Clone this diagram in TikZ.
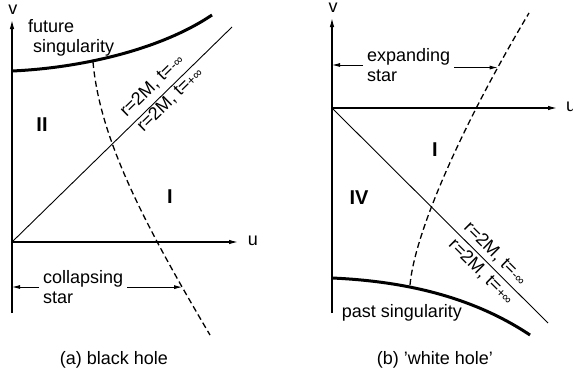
\documentclass[tikz,border=0pt]{standalone}
\usepackage{fontspec}
\setmainfont{Liberation Sans}
\usetikzlibrary{arrows.meta,positioning}

\begin{document}
\begin{tikzpicture}[
  x=1pt,
  y=-1pt,
  >={Latex[length=9pt,width=4.5pt]},
  every node/.style={font=\fontsize{18}{20}\selectfont},
  axis/.style={->,draw=black,line width=1.2pt},
  horizon/.style={draw=black,line width=0.9pt},
  singular/.style={draw=black,line width=3pt},
  starline/.style={draw=black,line width=1.3pt,dash pattern=on 6pt off 3.5pt},
  pointer/.style={->,draw=black,line width=0.9pt,>={Latex[length=8pt,width=4pt]}},
  hlabel/.style={sloped,inner sep=1pt},
  region/.style={font=\fontsize{20}{22}\selectfont\bfseries}
]
\useasboundingbox (0,0) rectangle (573,372);

% (a) Black hole: axes.
\coordinate (Oa) at (12,242);
\coordinate (vtopa) at (12,20);
\coordinate (vbota) at (12,313);
\coordinate (uenda) at (238,242);
\draw[axis] (vbota) -- (vtopa);
\draw[axis] (Oa) -- (uenda);
\node (vlaba) at (13,10) {v};
\node (ulaba) at (253,241) {u};

% Future singularity and horizon.
\coordinate (fsa) at (12,71);
\coordinate (fsb) at (212,15);
\draw[singular] (fsa) .. controls (80,68) and (160,50) .. (fsb);
\coordinate (ha) at (232,27);
\draw[horizon] (Oa) -- (ha)
  node[hlabel,pos=0.68,above=5pt] {r=2M, t={\fontsize{13}{13}\selectfont-∞}}
  node[hlabel,pos=0.69,below=0pt] {r=2M, t={\fontsize{13}{13}\selectfont+∞}};

% Surface of the collapsing star.
\coordinate (csa) at (93,62);
\draw[starline] (csa) .. controls (100,140) and (145,225) .. (210,335)
  coordinate[pos=0.85] (cs);

\node[align=left,anchor=west,inner sep=0pt] (fsing) at (28,38) {future\\\hspace*{5pt}singularity};
\node[region] (regII) at (42,125) {II};
\node[region] (regIa) at (170,197) {I};
\node[align=left,anchor=west,inner sep=4pt] (cstar) at (39,287) {collapsing\\star};
\draw[pointer] (cstar.west) -- (cstar.west -| Oa);
\draw[pointer] (cstar.east |- cs) -- (cs);
\node (capa) at (114,360) {(a) black hole};

% (b) White hole: axes.
\coordinate (Ob) at (332,108);
\coordinate (vtopb) at (332,18);
\coordinate (vbotb) at (332,313);
\coordinate (uendb) at (557,108);
\draw[axis] (vbotb) -- (vtopb);
\draw[axis] (Ob) -- (uendb);
\node (vlabb) at (333,8) {v};
\node (ulabb) at (571,107) {u};

% Past singularity and horizon.
\coordinate (psa) at (332,278);
\coordinate (psb) at (530,335);
\draw[singular] (psa) .. controls (400,281) and (470,295) .. (psb);
\coordinate (hb) at (548,323);
\draw[horizon] (Ob) -- (hb)
  node[hlabel,pos=0.717,above=3pt] {r=2M, t={\fontsize{13}{13}\selectfont-∞}}
  node[hlabel,pos=0.726,below=2pt] {r=2M, t={\fontsize{13}{13}\selectfont+∞}};

% Surface of the expanding star.
\coordinate (esa) at (410,285);
\draw[starline] (esa) .. controls (415,230) and (465,120) .. (529,13)
  coordinate[pos=0.83] (es);

\node[align=left,anchor=west,inner sep=4pt] (xstar) at (363,65) {expanding\\star};
\draw[pointer] (xstar.west) -- (xstar.west -| Ob);
\draw[pointer] (xstar.east |- es) -- (es);
\node[region] (regIb) at (435,150) {I};
\node[region] (regIV) at (359,198) {IV};
\node (psing) at (402,313) {past singularity};
\node (capb) at (435,360) {(b) 'white hole'};

\end{tikzpicture}
\end{document}
